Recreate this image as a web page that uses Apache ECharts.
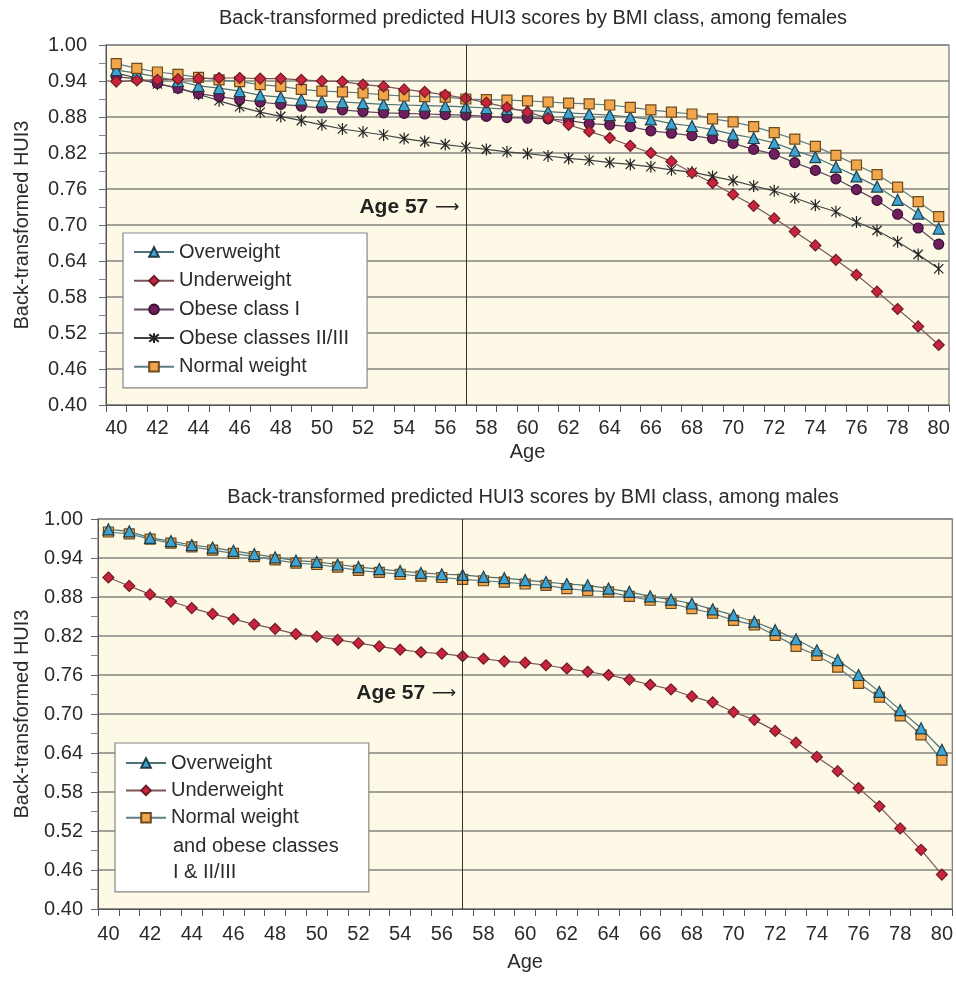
<!DOCTYPE html>
<html><head><meta charset="utf-8">
<script src="https://cdn.jsdelivr.net/npm/echarts@6/dist/echarts.min.js"></script>
<style>html,body{margin:0;padding:0;background:#fff}#c{width:956px;height:982px}</style>
</head><body><div id="c"></div>
<script>
const ages = ['40','41','42','43','44','45','46','47','48','49','50','51','52','53','54','55','56','57','58','59','60','61','62','63','64','65','66','67','68','69','70','71','72','73','74','75','76','77','78','79','80'];
const yTickLabels = ['0.40','0.46','0.52','0.58','0.64','0.70','0.76','0.82','0.88','0.94','1.00'];

const femaleOverweight = [.958,.953,.947,.940,.932,.928,.923,.916,.913,.909,.906,.905,.903,.901,.900,.899,.898,.897,.895,.893,.891,.889,.887,.885,.883,.880,.876,.869,.865,.859,.851,.845,.837,.824,.813,.797,.781,.764,.742,.719,.694];
const femaleUnderweight = [.939,.941,.942,.943,.944,.945,.945,.944,.944,.942,.940,.939,.934,.931,.926,.922,.917,.911,.904,.896,.888,.878,.867,.856,.845,.832,.820,.806,.787,.770,.751,.732,.711,.689,.666,.642,.617,.589,.560,.531,.500];
const femaleObeseI = [.947,.944,.936,.928,.919,.914,.909,.905,.901,.898,.895,.892,.889,.887,.886,.885,.884,.883,.881,.879,.878,.877,.874,.869,.867,.864,.857,.853,.849,.844,.836,.826,.818,.804,.791,.777,.759,.741,.718,.695,.668];
const femaleObeseII = [.953,.945,.935,.928,.918,.907,.897,.888,.881,.874,.867,.860,.855,.850,.844,.839,.834,.830,.826,.822,.819,.815,.811,.808,.804,.801,.797,.792,.788,.781,.774,.765,.757,.745,.733,.722,.705,.691,.672,.651,.627];
const femaleNormal = [.969,.961,.955,.951,.946,.942,.939,.934,.931,.926,.923,.922,.920,.917,.915,.914,.913,.910,.909,.908,.907,.905,.903,.902,.900,.896,.892,.888,.885,.877,.872,.864,.854,.843,.831,.816,.800,.784,.763,.739,.714];

const maleOverweight = [.984,.981,.971,.966,.960,.956,.951,.946,.941,.936,.934,.930,.926,.923,.920,.917,.915,.914,.911,.909,.906,.903,.900,.898,.893,.888,.881,.876,.870,.861,.852,.842,.829,.815,.798,.783,.760,.734,.706,.678,.645];
const maleUnderweight = [.910,.897,.884,.873,.863,.854,.846,.838,.831,.823,.819,.814,.809,.804,.799,.795,.793,.789,.785,.781,.779,.775,.770,.765,.760,.753,.745,.738,.727,.718,.703,.691,.674,.656,.634,.612,.586,.558,.524,.491,.453];
const maleNormalObese = [.980,.977,.969,.963,.957,.952,.947,.942,.937,.932,.930,.926,.921,.918,.915,.912,.910,.907,.905,.903,.900,.898,.893,.890,.888,.881,.875,.870,.862,.855,.844,.837,.821,.804,.790,.772,.747,.726,.697,.668,.629];

const titleFemale = 'Back-transformed predicted HUI3 scores by BMI class, among females';
const titleMale = 'Back-transformed predicted HUI3 scores by BMI class, among males';
const nameOver = 'Overweight', nameUnder = 'Underweight', nameOb1 = 'Obese class I', nameOb2 = 'Obese classes II/III', nameNormal = 'Normal weight';
const nameNormalMale = 'Normal weight\nand obese classes\nI & II/III';
const age57Text = 'Age 57';

const FONT = '"Liberation Sans", Arial, sans-serif';
const TXT = '#2b2b2b';
const STAR = 'path://M0,0L10,10M10,0L0,10M5,-1.5L5,11.5';

const st = {
  over:  {symbol:'triangle', size:11, fill:'#3fa4d4', border:'#1f3f48', line:'#4a7478'},
  under: {symbol:'diamond',  size:11, fill:'#c8243c', border:'#6e1a28', line:'#7a5456'},
  ob1:   {symbol:'circle',   size:10, fill:'#6e1f5e', border:'#3e1036', line:'#634a62'},
  ob2:   {symbol:STAR,       size:12, fill:'#222',    border:'#222',    line:'#444'},
  norm:  {symbol:'rect',     size:10, fill:'#f2a64c', border:'#6b4a20', line:'#607c84'}
};

function mk(name, data, s, xi, yi, extra) {
  return Object.assign({
    type:'line', name:name, data:data, xAxisIndex:xi, yAxisIndex:yi,
    symbol:s.symbol, symbolSize:s.size, showAllSymbol:true, symbolKeepAspect:true,
    itemStyle:{color:s.fill, borderColor:s.border, borderWidth:1.2},
    lineStyle:{color:s.line, width:1.2},
    emphasis:{disabled:true}, animation:false
  }, extra || {});
}
function age57(val) {
  return {
    markLine:{silent:true, symbol:'none', animation:false, label:{show:false},
      lineStyle:{color:'#333', width:1, type:'solid'}, emphasis:{disabled:true},
      data:[{xAxis:'57'}]},
    markPoint:{silent:true, animation:false, symbol:'circle', symbolSize:1,
      itemStyle:{color:'rgba(0,0,0,0)'},
      label:{show:true, position:'left', distance:6,
        formatter:'{a|' + age57Text + '}  {b|\u27F6}',
        rich:{a:{fontFamily:FONT, fontWeight:'bold', fontSize:21, color:'#222'},
              b:{fontFamily:'DejaVu Sans', fontSize:17, color:'#222'}}},
      data:[{coord:['57', val]}]}
  };
}

const grids = [
  {left:106, top:45, width:843, height:360},
  {left:98, top:519, width:856, height:390}
];
function xAx(gi, margin, gap) {
  return {type:'category', gridIndex:gi, data:ages, boundaryGap:true,
    name:'Age', nameLocation:'middle', nameGap:gap,
    nameTextStyle:{fontFamily:FONT, fontSize:20, color:TXT},
    axisLine:{lineStyle:{color:'#555', width:1}},
    axisTick:{show:true, interval:0, length:7, lineStyle:{color:'#555'}},
    axisLabel:{interval:1, fontFamily:FONT, fontSize:20, color:TXT, margin:margin},
    splitLine:{show:false}};
}
function yData(gi) {
  return {type:'value', gridIndex:gi, min:0.40, max:1.00, show:false, splitLine:{show:false}};
}
function yDeco(gi, margin, gap) {
  return {type:'value', gridIndex:gi, min:0, max:yTickLabels.length - 1, interval:1, position:'left',
    name:'Back-transformed HUI3', nameLocation:'middle', nameGap:gap, nameRotate:90,
    nameTextStyle:{fontFamily:FONT, fontSize:20, color:TXT},
    axisLine:{show:true, lineStyle:{color:'#555'}},
    axisTick:{show:true, length:7, lineStyle:{color:'#666'}},
    minorTick:{show:true, splitNumber:2, length:7, lineStyle:{color:'#888'}},
    axisLabel:{fontFamily:FONT, fontSize:20, color:TXT, margin:margin,
      formatter:function(v){ return yTickLabels[Math.round(v)] || ''; }},
    splitLine:{show:true, lineStyle:{color:'#858580', width:1.6}},
    minorSplitLine:{show:false}};
}

const legendText = {fontFamily:FONT, fontSize:20, color:TXT, lineHeight:22};

const option = {
  backgroundColor:'#ffffff',
  animation:false,
  title:[
    {text:titleFemale, left:528, top:3, textAlign:'center',
     textStyle:{fontFamily:FONT, fontSize:20, fontWeight:'normal', color:TXT}},
    {text:titleMale, left:528, top:482, textAlign:'center',
     textStyle:{fontFamily:FONT, fontSize:20, fontWeight:'normal', color:TXT}}
  ],
  grid:grids.map(g => Object.assign({show:true, backgroundColor:'#fdf9e6', borderColor:'#777', borderWidth:1.2, containLabel:false}, g)),
  xAxis:[xAx(0, 13, 37), xAx(1, 15, 43)],
  yAxis:[yData(0), yDeco(0, 19, 74), yData(1), yDeco(1, 15, 66)],
  legend:[
    {orient:'vertical', left:123, top:233, itemWidth:40, itemHeight:12, itemGap:6.7,
     padding:[8, 18, 10, 10], backgroundColor:'#ffffff', borderColor:'#888', borderWidth:1.2,
     textStyle:legendText, selectedMode:false,
     data:[nameOver, nameUnder, nameOb1, nameOb2, nameNormal]},
    {orient:'vertical', left:115, top:743, itemWidth:40, itemHeight:12, itemGap:5.4,
     padding:[9, 70, 63, 10], backgroundColor:'#ffffff', borderColor:'#888', borderWidth:1.2,
     textStyle:legendText, selectedMode:false,
     formatter:function(n){ return n.split('\n')[0]; },
     data:[nameOver, nameUnder, nameNormalMale]}
  ],
  graphic:[
    {type:'text', left:173, top:833, z:100,
     style:{text:nameNormalMale.split('\n').slice(1).join('\n'), font:'20px ' + FONT, fill:TXT, lineHeight:26}}
  ],
  series:[
    mk(nameOb2, femaleObeseII, st.ob2, 0, 0, age57(0.729)),
    mk(nameOb1, femaleObeseI, st.ob1, 0, 0),
    mk(nameOver, femaleOverweight, st.over, 0, 0),
    mk(nameNormal, femaleNormal, st.norm, 0, 0),
    mk(nameUnder, femaleUnderweight, st.under, 0, 0),
    mk(nameUnder, maleUnderweight, st.under, 1, 2, age57(0.732)),
    mk(nameNormalMale, maleNormalObese, st.norm, 1, 2),
    mk(nameOver, maleOverweight, st.over, 1, 2)
  ]
};
const chart = echarts.init(document.getElementById('c'), null, {renderer:'canvas'});
chart.setOption(option);
</script>
</body></html>
